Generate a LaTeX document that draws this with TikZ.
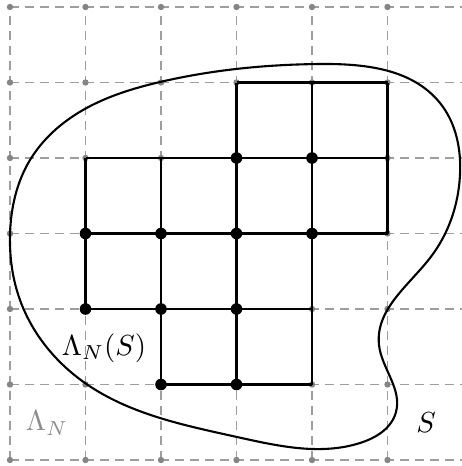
\documentclass[tikz,border=0pt]{standalone}
\usetikzlibrary{hobby}
\begin{document}
\begin{tikzpicture}[x=1pt,y=-1pt,
  gridline/.style={draw=black!38,line width=1.3pt,dash pattern=on 9pt off 6pt},
  gdot/.style={fill=black!48},
  lat/.style={draw=black,line width=2.3pt},
  bdot/.style={fill=black},
  curve/.style={draw=black,line width=2.1pt},
  lbl/.style={inner sep=0pt,scale=2.9}]
\useasboundingbox (0,0) rectangle (462,466);
\clip (0,0) rectangle (462,466);
\foreach \i in {0,...,6}{\foreach \j in {0,...,6}{\coordinate (p\i\j) at ({10+75.5*\i},{460-75.5*\j});}}
% dashed grid
\foreach \j in {0,...,6}{\draw[gridline] (p0\j) -- (p6\j) -- ++(10,0);}
\foreach \i in {0,...,5}{\draw[gridline] (p\i0) -- (p\i6);}
\foreach \i in {0,...,5}{\foreach \j in {0,...,6}{\fill[gdot] (p\i\j) circle (3.2pt);}}
% lattice
\draw[lat] (p35) -- (p55);
\draw[lat] (p14) -- (p54);
\draw[lat] (p13) -- (p53);
\draw[lat] (p12) -- (p42);
\draw[lat] (p21) -- (p41);
\draw[lat] (p12) -- (p14);
\draw[lat] (p21) -- (p24);
\draw[lat] (p31) -- (p35);
\draw[lat] (p41) -- (p45);
\draw[lat] (p53) -- (p55);
\foreach \p in {34,44,13,23,33,43,12,22,32,21,31}{\fill[bdot] (p\p) circle (5.8pt);}
% region S
\draw[curve,use Hobby shortcut,closed=true]
 (160,82) .. (320,64) .. (440,103) .. (460,175) .. (430,258)
 .. (379,345) .. (396,412) .. (360,443) .. (237,437)
 .. (85,383) .. (20,300) .. (10,235) .. (30,160) .. (83,110) .. (160,82);
% labels
\node[lbl] (lns) at (104,348) {$\Lambda_N(S)$};
\node[lbl,text=black!45] (ln) at (47,423) {$\Lambda_N$};
\node[lbl] (s) at (426,423) {$S$};
\end{tikzpicture}
\end{document}
